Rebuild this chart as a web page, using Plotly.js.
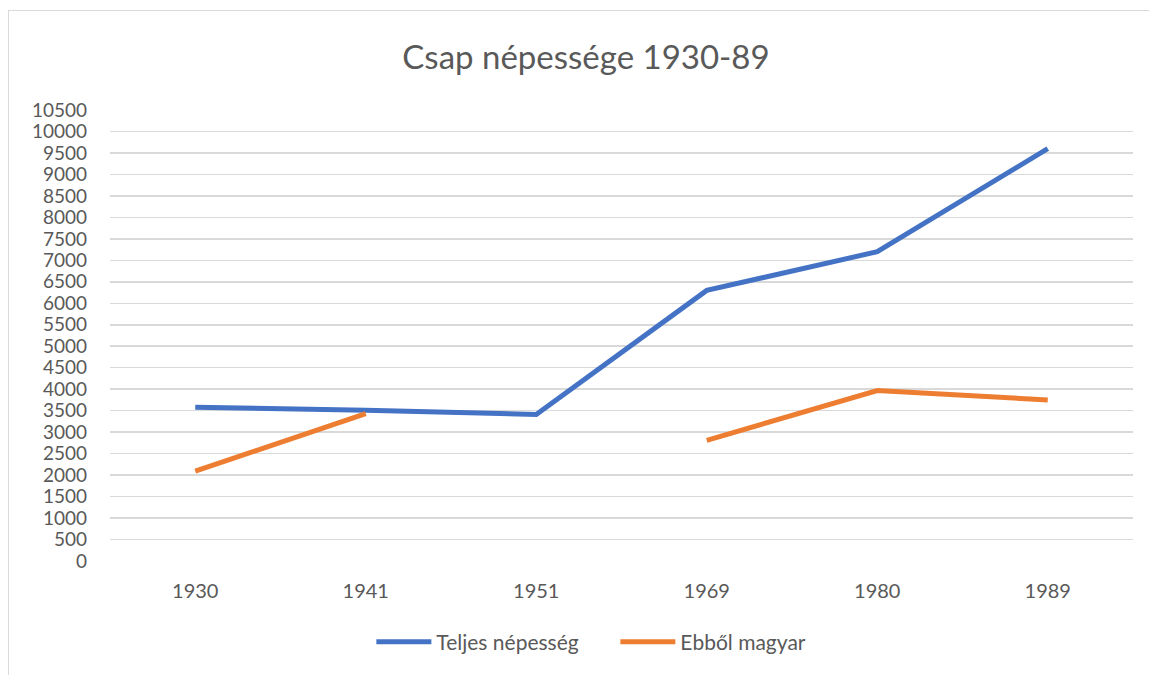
<!DOCTYPE html>
<html>
<head>
<meta charset="utf-8">
<script src="https://cdn.plot.ly/plotly-3.0.1.min.js"></script>
<style>
  html, body { margin: 0; padding: 0; background: #fff; }
  #wrap { position: relative; width: 1149px; height: 675px; }
  #chart { width: 1149px; height: 675px; }
  #frame { position: absolute; left: 8px; top: 10px; width: 1160px; height: 700px;
           border-left: 1px solid #D9D9D9; border-top: 1px solid #D9D9D9; pointer-events: none; }
</style>
</head>
<body>
<div id="wrap">
  <div id="chart"></div>
  <div id="frame"></div>
</div>
<script>
const years = ["1930", "1941", "1951", "1969", "1980", "1989"];
const teljes = [3580, 3510, 3410, 6300, 7200, 9600];
const magyar = [2090, 3430, null, 2810, 3970, 3750];
const yTicks = [0, 500, 1000, 1500, 2000, 2500, 3000, 3500, 4000, 4500, 5000,
                5500, 6000, 6500, 7000, 7500, 8000, 8500, 9000, 9500, 10000, 10500];

const FONT = "Lato, 'Open Sans', sans-serif";
const GREY = "#595959";

const data = [
  { x: years, y: teljes, type: "scatter", mode: "lines", name: "Teljes népesség",
    line: { color: "#4472C4", width: 5 }, connectgaps: false },
  { x: years, y: magyar, type: "scatter", mode: "lines", name: "Ebből magyar",
    line: { color: "#ED7D31", width: 5 }, connectgaps: false }
];

const layout = {
  width: 1149, height: 675,
  paper_bgcolor: "#fff", plot_bgcolor: "#fff",
  margin: { l: 110, r: 16, t: 110, b: 114 },
  title: { text: "Csap népessége 1930-89", x: 0.51, xanchor: "center", y: 0.915, yanchor: "middle",
           font: { family: FONT, size: 33, color: GREY } },
  font: { family: FONT, color: GREY, size: 19 },
  xaxis: { type: "category", range: [-0.5, 5.5], showgrid: false, zeroline: false,
           showline: false, ticks: "", ticklabelstandoff: 16,
           tickfont: { size: 20, color: GREY }, fixedrange: true },
  yaxis: { range: [0, 10500], tickvals: yTicks, ticktext: yTicks.map(String),
           showgrid: true, gridcolor: "#D9D9D9", gridwidth: 1.5, zeroline: false,
           showline: false, ticks: "", ticklabelstandoff: 22,
           tickfont: { size: 19, color: GREY }, fixedrange: true },
  showlegend: true,
  legend: { orientation: "h", x: 0.494, xanchor: "center", y: -0.18, yanchor: "middle",
            font: { size: 21, color: GREY }, itemwidth: 55, entrywidth: 174 },
  hovermode: false
};

Plotly.newPlot("chart", data, layout, { displayModeBar: false, staticPlot: true });
</script>
</body>
</html>
